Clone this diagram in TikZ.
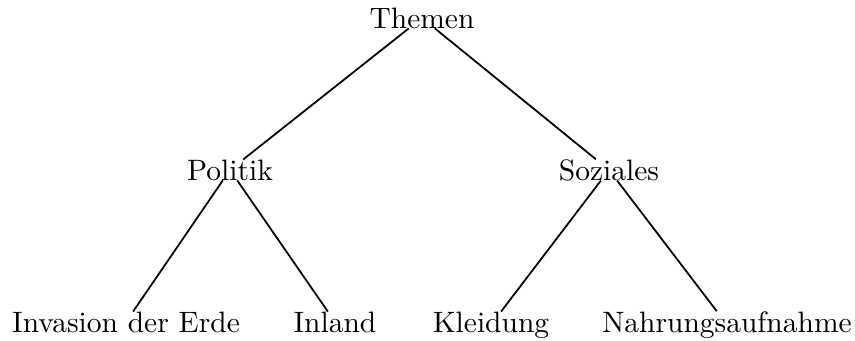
\documentclass[tikz,border=0pt]{standalone}
\begin{document}
\begin{tikzpicture}[x=0.339pt,y=-0.339pt,
  lbl/.style={inner sep=0pt,outer sep=0pt,anchor=base},
  edge/.style={draw=black,line width=0.6pt}]
\useasboundingbox (0,0) rectangle (855,341);
\node[lbl] (themen) at (422,28) {Themen};
\node[lbl] (politik) at (230,180) {Politik};
\node[lbl] (soziales) at (609,180) {Soziales};
\node[lbl] (invasion) at (126,332) {Invasion der Erde};
\node[lbl] (inland) at (335,332) {Inland};
\node[lbl] (kleidung) at (491,332) {Kleidung};
\node[lbl] (nahrung) at (727,332) {Nahrungsaufnahme};
\draw[edge] (themen) -- (politik);
\draw[edge] (themen) -- (soziales);
\draw[edge] (politik) -- (invasion);
\draw[edge] (politik) -- (inland);
\draw[edge] (soziales) -- (kleidung);
\draw[edge] (soziales) -- (nahrung);
\end{tikzpicture}
\end{document}
